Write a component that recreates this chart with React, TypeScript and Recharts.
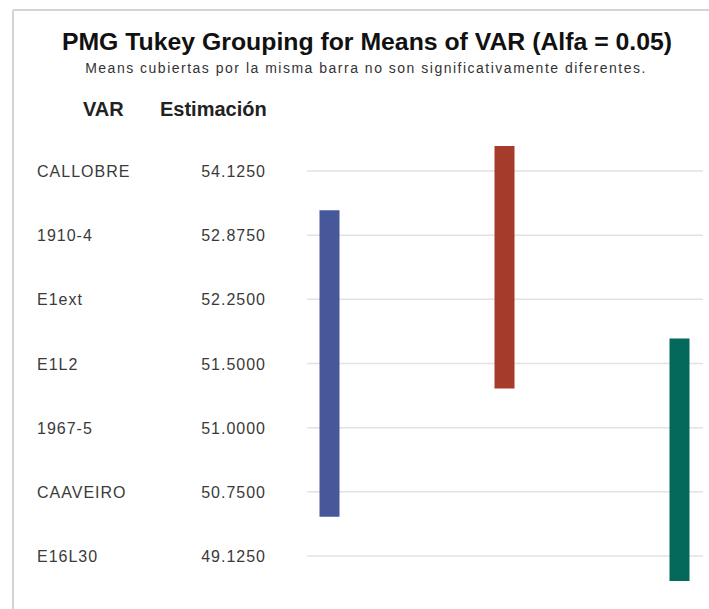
import { ComposedChart, Bar, Cell, XAxis, YAxis, CartesianGrid } from "recharts";

const varieties = ["CALLOBRE", "1910-4", "E1ext", "E1L2", "1967-5", "CAAVEIRO", "E16L30"];
const estimates = ["54.1250", "52.8750", "52.2500", "51.5000", "51.0000", "50.7500", "49.1250"];

// each grouping bar covers the rows from first to last (row index, top = 0)
const groupColumn = [0, 1, 2];
const groupFirstRow = [1, 0, 3];
const groupLastRow = [5, 3, 6];
const groupColors = ["#46579a", "#a53b2b", "#04695b"];

const OVERHANG = 0.39;
const FONT = '"Liberation Sans", Arial, sans-serif';

const rowTicks = varieties.map((_, i) => i);

const groups = groupColumn.map((col, i) => ({
  col,
  span: [groupFirstRow[i] - OVERHANG, groupLastRow[i] + OVERHANG],
}));

function RowTick(props: any) {
  const { y, payload } = props;
  const i = payload.value;
  return (
    <g fontFamily={FONT} fontSize={16} fill="#3a3a3a" letterSpacing={1}>
      <text x={37} y={y + 6} textAnchor="start">
        {varieties[i]}
      </text>
      <text x={266} y={y + 6} textAnchor="end">
        {estimates[i]}
      </text>
    </g>
  );
}

export default function App() {
  return (
    <div
      style={{
        position: "absolute",
        left: 0,
        top: 0,
        width: 709,
        height: 609,
        background: "#fff",
        overflow: "hidden",
      }}
    >
      <div style={{ position: "absolute", left: 0, top: 0 }}>
        <ComposedChart
          width={709}
          height={609}
          data={groups}
          margin={{ top: 139, right: 6, bottom: 21, left: 0 }}
        >
          <CartesianGrid
            vertical={false}
            syncWithTicks
            stroke="#e2e2e2"
            strokeWidth={1.5}
          />
          <XAxis
            dataKey="col"
            type="number"
            domain={[0, 2]}
            padding={{ left: 22, right: 24 }}
            hide
          />
          <YAxis
            type="number"
            domain={[-0.5, 6.5]}
            allowDataOverflow
            ticks={rowTicks}
            interval={0}
            reversed
            width={307}
            axisLine={false}
            tickLine={false}
            tick={<RowTick />}
          />
          <Bar dataKey="span" barSize={20} isAnimationActive={false}>
            {groups.map((_, i) => (
              <Cell key={i} fill={groupColors[i]} />
            ))}
          </Bar>
        </ComposedChart>
      </div>

      <svg
        width={709}
        height={609}
        style={{ position: "absolute", left: 0, top: 0, pointerEvents: "none" }}
      >
        <line x1={13} y1={10} x2={709} y2={10} stroke="#d4d4d4" strokeWidth={2} />
        <line x1={13} y1={10} x2={13} y2={609} stroke="#d4d4d4" strokeWidth={2} />
        <text
          x={367}
          y={50}
          textAnchor="middle"
          fontFamily={FONT}
          fontWeight="bold"
          fontSize={24.8}
          fill="#111"
        >
          PMG Tukey Grouping for Means of VAR (Alfa = 0.05)
        </text>
        <text
          x={366}
          y={73}
          textAnchor="middle"
          fontFamily={FONT}
          fontSize={14}
          letterSpacing={1.5}
          fill="#333"
        >
          Means cubiertas por la misma barra no son significativamente diferentes.
        </text>
        <text x={83} y={116} fontFamily={FONT} fontWeight="bold" fontSize={20} fill="#222">
          VAR
        </text>
        <text x={160} y={116} fontFamily={FONT} fontWeight="bold" fontSize={20} fill="#222">
          Estimación
        </text>
      </svg>
    </div>
  );
}
